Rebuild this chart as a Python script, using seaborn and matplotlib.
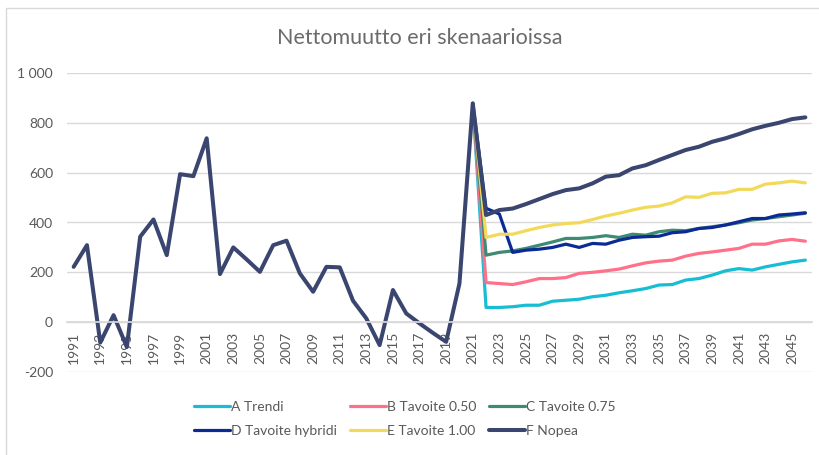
import matplotlib
matplotlib.use("Agg")
import pandas as pd
import seaborn as sns
import matplotlib.pyplot as plt
from matplotlib.patches import Rectangle
from matplotlib.ticker import FuncFormatter

# Years on the category axis
years = list(range(1991, 2047))
scenario_years = list(range(2021, 2047))

# Observed net migration 1991-2021 (part of the F line)
history = [222, 309, -82, 28, -100, 343, 412, 269, 594, 586,
           738, 193, 300, 252, 202, 309, 327, 196, 122, 222,
           220, 86, 15, -92, 129, 35, -5, -43, -79, 155, 878]

# Scenario values 2022-2046
a_trendi = [59, 59, 62, 68, 68, 84, 88, 92, 102, 108, 118, 126, 135,
            149, 151, 169, 175, 189, 206, 215, 209, 222, 232, 242, 249]
b_tavoite_050 = [159, 155, 151, 162, 175, 175, 179, 196, 200, 206, 213, 226, 238,
                 245, 249, 265, 276, 282, 289, 296, 313, 313, 326, 332, 325]
c_tavoite_075 = [269, 280, 286, 296, 309, 322, 336, 336, 340, 347, 340, 353, 349,
                 363, 369, 367, 376, 383, 390, 399, 410, 416, 423, 430, 437]
d_tavoite_hybridi = [457, 434, 280, 289, 293, 300, 313, 300, 316, 313, 329, 340, 343,
                     345, 359, 363, 376, 380, 390, 403, 416, 416, 430, 434, 439]
e_tavoite_100 = [340, 353, 353, 367, 380, 390, 396, 399, 412, 426, 437, 450, 461,
                 466, 479, 503, 501, 517, 519, 533, 533, 554, 559, 566, 559]
f_nopea = [430, 450, 456, 474, 494, 514, 530, 537, 557, 584, 590, 617, 630,
           651, 671, 691, 704, 724, 738, 755, 774, 788, 800, 815, 822]

labels = ["A Trendi", "B Tavoite 0.50", "C Tavoite 0.75",
          "D Tavoite hybridi", "E Tavoite 1.00", "F Nopea"]
colors = ["#17BDD3", "#FF7189", "#3F8A73", "#0B2A95", "#F3D95A", "#3A4670"]
widths = [2.3, 2.3, 2.3, 2.3, 2.3, 2.9]

GREY = "#595959"


def build_frame():
    """Long-form table: one row per scenario and year."""
    peak = history[-1]
    series = {
        labels[0]: (scenario_years, [peak] + a_trendi),
        labels[1]: (scenario_years, [peak] + b_tavoite_050),
        labels[2]: (scenario_years, [peak] + c_tavoite_075),
        labels[3]: (scenario_years, [peak] + d_tavoite_hybridi),
        labels[4]: (scenario_years, [peak] + e_tavoite_100),
        labels[5]: (years, history + f_nopea),
    }
    rows = []
    for name, (xs, ys) in series.items():
        for x, y in zip(xs, ys):
            rows.append({"vuosi": x, "nettomuutto": y, "skenaario": name})
    return pd.DataFrame(rows)


def main():
    sns.set_theme(style="white")
    plt.rcParams["font.family"] = ["Lato", "DejaVu Sans"]
    plt.rcParams["axes.unicode_minus"] = False

    df = build_frame()

    fig = plt.figure(figsize=(8.19, 4.55), dpi=100)
    ax = fig.add_axes([67 / 819, 1 - 372 / 455, 745 / 819, 299 / 455])

    handles = []
    for name, color, lw in zip(labels, colors, widths):
        sub = df[df["skenaario"] == name]
        sns.lineplot(data=sub, x="vuosi", y="nettomuutto", color=color,
                     linewidth=lw, ax=ax, label=name, legend=False)
        handles.append(ax.lines[-1])

    # category axis crosses at zero, labels hang below it
    for side in ["top", "right", "left"]:
        ax.spines[side].set_visible(False)
    ax.spines["bottom"].set_position(("data", 0))
    ax.spines["bottom"].set_color("#D9D9D9")

    ax.set_xlim(1990.5, 2046.5)
    ax.set_ylim(-200, 1000)
    ax.set_yticks(range(-200, 1001, 200))
    ax.yaxis.set_major_formatter(
        FuncFormatter(lambda v, _: f"{int(v):,}".replace(",", " ")))
    ax.set_xticks(years[::2])
    ax.set_xticklabels([str(y) for y in years[::2]])
    ax.grid(axis="y", color="#D9D9D9", linewidth=1)
    ax.set_axisbelow(True)
    ax.tick_params(axis="x", length=0, pad=7, labelsize=10, colors=GREY,
                   labelrotation=90)
    ax.tick_params(axis="y", length=0, pad=10, labelsize=10, colors=GREY)
    ax.set_xlabel("")
    ax.set_ylabel("")

    fig.text(420 / 819, 1 - 38 / 455, "Nettomuutto eri skenaarioissa",
             ha="center", va="center", fontsize=15.5, color="#6b6b6b")

    # Excel style legend: row-major order in three columns
    order = [0, 3, 1, 4, 2, 5]
    leg = fig.legend([handles[i] for i in order], [labels[i] for i in order],
                     ncol=3, loc="upper left", bbox_to_anchor=(188 / 819, 1 - 395 / 455),
                     frameon=False, fontsize=10, handlelength=2.6,
                     handletextpad=0.1, columnspacing=0.9, labelspacing=0.9,
                     borderaxespad=0)
    for txt in leg.get_texts():
        txt.set_color(GREY)

    fig.patches.append(Rectangle((6 / 819, -0.05), 1.0, 1.05 - 8 / 455,
                                 transform=fig.transFigure, fill=False,
                                 edgecolor="#D9D9D9", linewidth=1))

    fig.savefig("out.png", dpi=100)


if __name__ == "__main__":
    main()
